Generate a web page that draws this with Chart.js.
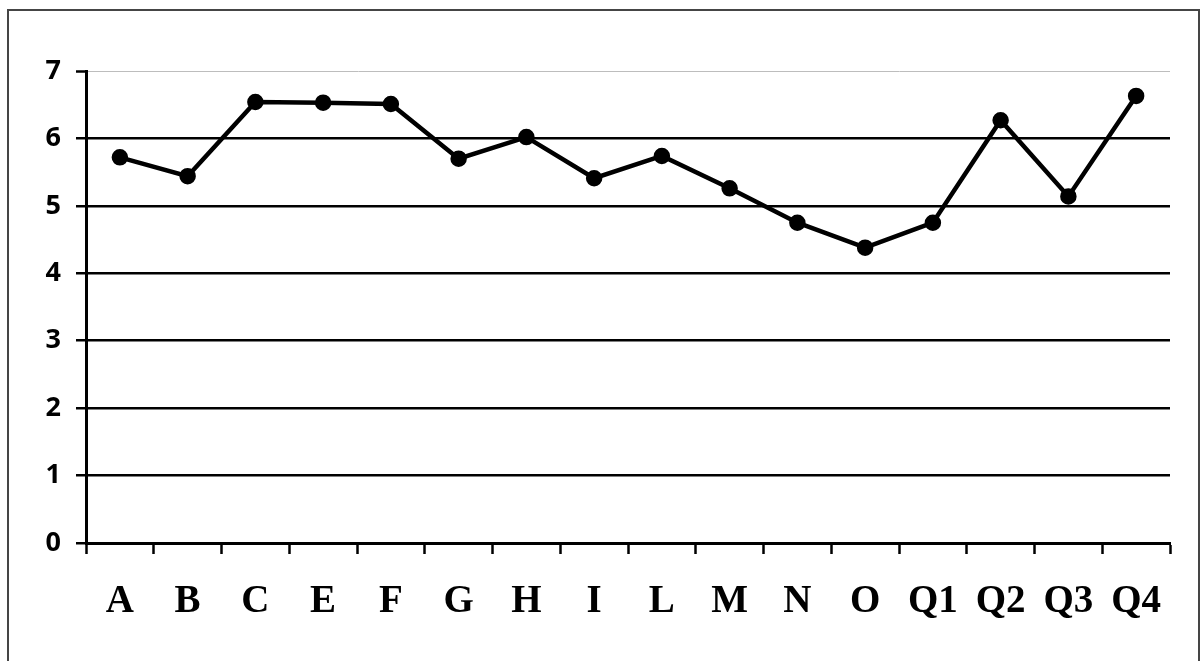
<!DOCTYPE html>
<html>
<head>
<meta charset="utf-8">
<style>
  html, body { margin: 0; padding: 0; background: #fff; }
  #wrap { width: 1203px; height: 661px; position: relative; }
</style>
<script src="https://cdn.jsdelivr.net/npm/chart.js@4/dist/chart.umd.min.js"></script>
</head>
<body>
<div id="wrap"><canvas id="c" width="1203" height="661"></canvas></div>
<script>
// Categories and values
const categories = ['A', 'B', 'C', 'E', 'F', 'G', 'H', 'I', 'L', 'M', 'N', 'O', 'Q1', 'Q2', 'Q3', 'Q4'];
const values = [5.72, 5.44, 6.54, 6.53, 6.51, 5.70, 6.02, 5.41, 5.74, 5.26, 4.75, 4.38, 4.75, 6.27, 5.14, 6.63];
const yTicks = [0, 1, 2, 3, 4, 5, 6, 7];

// Outer frame around the chart
const framePlugin = {
  id: 'frame',
  beforeDraw(chart) {
    const ctx = chart.ctx;
    ctx.save();
    ctx.strokeStyle = '#454545';
    ctx.lineWidth = 2;
    ctx.beginPath();
    ctx.moveTo(8, 700);
    ctx.lineTo(8, 10);
    ctx.lineTo(1199, 10);
    ctx.lineTo(1199, 700);
    ctx.stroke();
    ctx.restore();
  }
};

new Chart(document.getElementById('c'), {
  type: 'line',
  data: {
    labels: categories,
    datasets: [{
      data: values,
      borderColor: '#000',
      backgroundColor: '#000',
      borderWidth: 4.5,
      pointRadius: 6,
      pointBackgroundColor: '#000',
      pointBorderColor: '#000',
      tension: 0,
      fill: false
    }]
  },
  options: {
    responsive: false,
    animation: false,
    devicePixelRatio: 1,
    layout: { padding: { left: 0, top: 71, right: 33, bottom: 0 } },
    plugins: {
      legend: { display: false },
      tooltip: { enabled: false }
    },
    scales: {
      x: {
        offset: true,
        afterFit(scale) { scale.height = 118; },
        border: { display: true, color: '#000', width: 3 },
        grid: {
          offset: true,
          drawOnChartArea: false,
          drawTicks: true,
          tickLength: 11,
          tickColor: '#000',
          tickWidth: 2.5
        },
        ticks: {
          color: '#000',
          padding: 25,
          maxRotation: 0,
          autoSkip: false,
          font: { family: '"Liberation Serif", "Times New Roman", serif', size: 39, weight: 'bold' }
        }
      },
      y: {
        min: 0,
        max: 7,
        afterFit(scale) { scale.width = 86; },
        afterBuildTicks(scale) { scale.ticks = yTicks.map(v => ({ value: v })); },
        border: { display: true, color: '#000', width: 3 },
        grid: {
          drawTicks: true,
          tickLength: 10,
          tickColor: '#000',
          tickWidth: 2.5,
          color: ctx => (ctx.tick && ctx.tick.value === 7) ? '#bdbdbd' : '#000',
          lineWidth: ctx => (ctx.tick && ctx.tick.value === 7) ? 1 : 2.5
        },
        ticks: {
          color: '#000',
          padding: 15,
          font: { family: '"Open Sans", "Liberation Sans", sans-serif', size: 27, weight: 'bold' }
        }
      }
    }
  },
  plugins: [framePlugin]
});
</script>
</body>
</html>
